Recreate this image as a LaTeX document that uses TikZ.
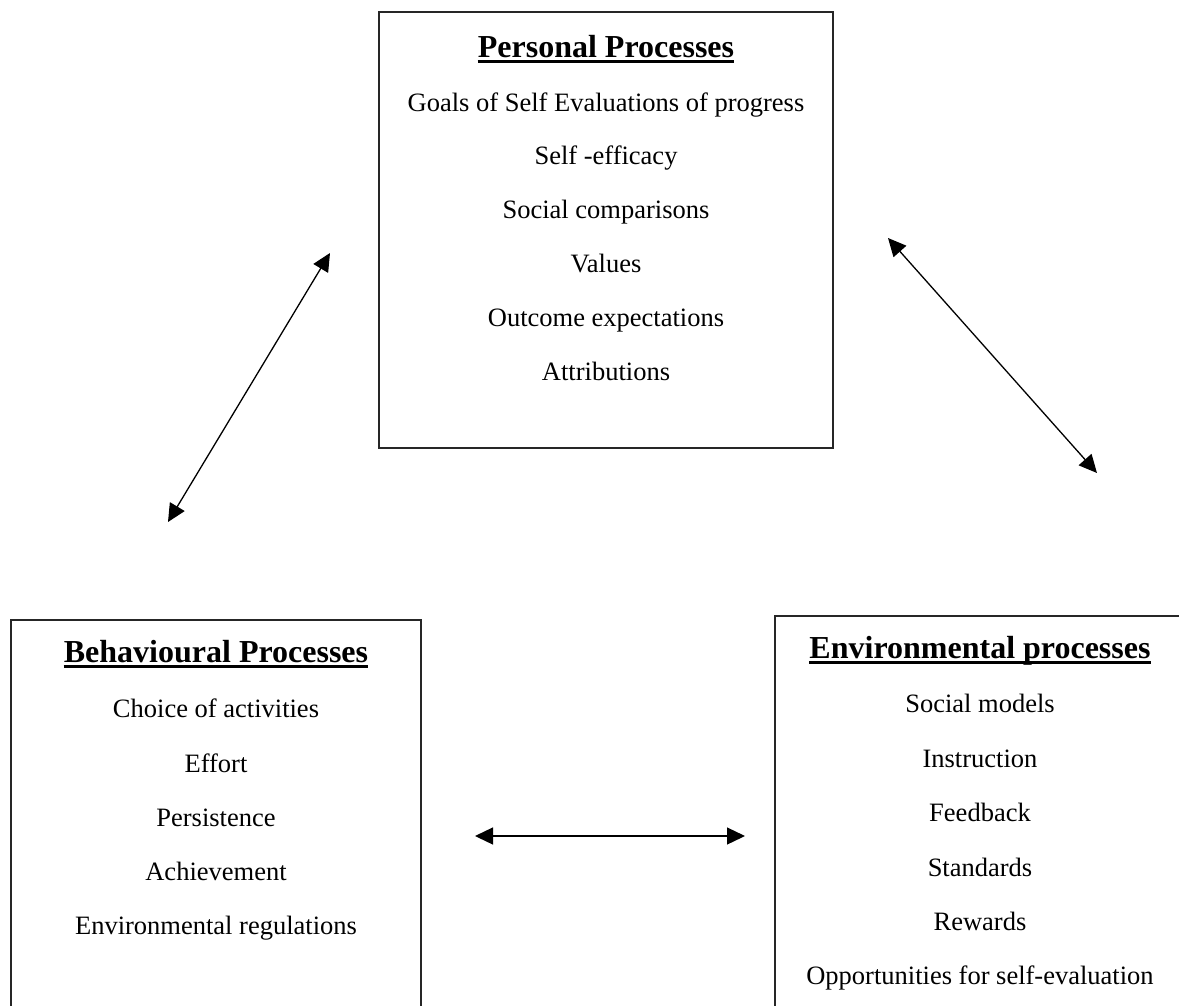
\documentclass[tikz,border=0pt]{standalone}
\usepackage{fontspec}
\setmainfont{Liberation Serif}
\usetikzlibrary{arrows.meta}
\begin{document}
\begin{tikzpicture}[x=1pt,y=-1pt,
  item/.style={anchor=base,inner sep=0pt,font=\fontsize{26.5}{30}\selectfont},
  heading/.style={anchor=base,inner sep=0pt,font=\fontsize{32}{36}\selectfont\bfseries},
  frame/.style={draw=black!85,line width=1.3pt},
  uline/.style={line width=2.6pt},
  link/.style={line width=1.3pt,{Triangle[length=18pt,width=17pt]}-{Triangle[length=18pt,width=17pt]}}]
\useasboundingbox (0,0) rectangle (1179,1005);

% boxes (the lower two run past the page edge)
\draw[frame] (379,12) rectangle (833,448);
\draw[frame] (11,1010) -- (11,620) -- (421,620) -- (421,1010);
\draw[frame] (775,1010) -- (775,616) -- (1185,616);

% personal processes
\node[heading] (pt) at (606,57) {Personal Processes};
\draw[uline] ([yshift=-4.5]pt.base west) -- ([yshift=-4.5]pt.base east);
\node[item] (p1) at (606,111) {Goals of Self Evaluations of progress};
\node[item] (p2) at (606,164) {Self -efficacy};
\node[item] (p3) at (606,218) {Social comparisons};
\node[item] (p4) at (606,272) {Values};
\node[item] (p5) at (606,326) {Outcome expectations};
\node[item] (p6) at (606,380) {Attributions};

% behavioural processes
\node[heading] (bt) at (216,662) {Behavioural Processes};
\draw[uline] ([yshift=-4.5]bt.base west) -- ([yshift=-4.5]bt.base east);
\node[item] (b1) at (216,717) {Choice of activities};
\node[item] (b2) at (216,772) {Effort};
\node[item] (b3) at (216,826) {Persistence};
\node[item] (b4) at (216,880) {Achievement};
\node[item] (b5) at (216,934) {Environmental regulations};

% environmental processes
\node[heading] (et) at (980,658) {Environmental processes};
\draw[uline] ([yshift=-4.5]et.base west) -- ([yshift=-4.5]et.base east);
\node[item] (e1) at (980,712) {Social models};
\node[item] (e2) at (980,767) {Instruction};
\node[item] (e3) at (980,821) {Feedback};
\node[item] (e4) at (980,876) {Standards};
\node[item] (e5) at (980,930) {Rewards};
\node[item] (e6) at (980,984) {Opportunities for self-evaluation};

% reciprocal links
\coordinate (l1) at (168,522);
\coordinate (l2) at (330,253);
\coordinate (r1) at (888,238);
\coordinate (r2) at (1097,473);
\coordinate (h1) at (475,836);
\coordinate (h2) at (745,836);
\draw[link] (l1) -- (l2);
\draw[link] (r1) -- (r2);
\draw[link] (h1) -- (h2);
\end{tikzpicture}
\end{document}
